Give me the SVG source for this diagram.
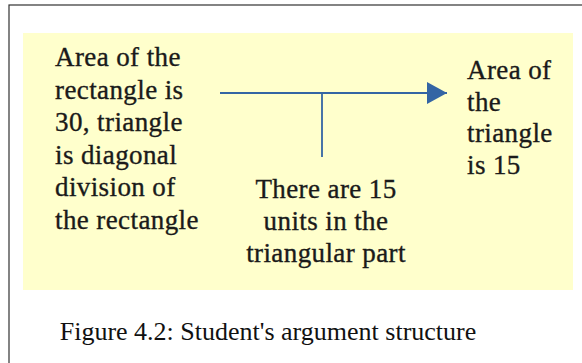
<svg xmlns="http://www.w3.org/2000/svg" width="582" height="363" viewBox="0 0 582 363">
<style>
.t{font-family:"Liberation Serif","Times New Roman",serif;font-size:27px;letter-spacing:0.4px;fill:#1a1a1a;stroke:#1a1a1a;stroke-width:0.35}
.c{font-family:"Liberation Serif","Times New Roman",serif;font-size:26px;fill:#111}
.ln{stroke:#3465a4;stroke-width:1.8;fill:none}
</style>
<defs>
<marker id="ah" markerWidth="20" markerHeight="22" refX="20" refY="11" orient="auto" markerUnits="userSpaceOnUse">
<path d="M0,0 L20,11 L0,22 Z" fill="#3465a4"/>
</marker>
</defs>
<rect x="9" y="5" width="590" height="370" fill="#fff" stroke="#333" stroke-width="1.2"/>
<rect x="23" y="33" width="550" height="257" fill="#ffffcc"/>
<g id="connectors">
<line class="ln" x1="220" y1="93" x2="447" y2="93" marker-end="url(#ah)"/>
<line class="ln" x1="322" y1="93" x2="322" y2="157"/>
</g>
<g id="premise">
<text class="t" x="55" y="66">Area of the</text>
<text class="t" x="55" y="98.5">rectangle is</text>
<text class="t" x="55" y="131">30, triangle</text>
<text class="t" x="55" y="163.5">is diagonal</text>
<text class="t" x="55" y="196">division of</text>
<text class="t" x="55" y="228.5">the rectangle</text>
</g>
<g id="conclusion">
<text class="t" x="467" y="79">Area of</text>
<text class="t" x="467" y="110.5">the</text>
<text class="t" x="467" y="142">triangle</text>
<text class="t" x="467" y="173.5">is 15</text>
</g>
<g id="warrant">
<text class="t" x="326" y="198" text-anchor="middle">There are 15</text>
<text class="t" x="326" y="230" text-anchor="middle">units in the</text>
<text class="t" x="326" y="262" text-anchor="middle">triangular part</text>
</g>
<text class="c" x="268" y="340" text-anchor="middle">Figure 4.2: Student's argument structure</text>
</svg>
